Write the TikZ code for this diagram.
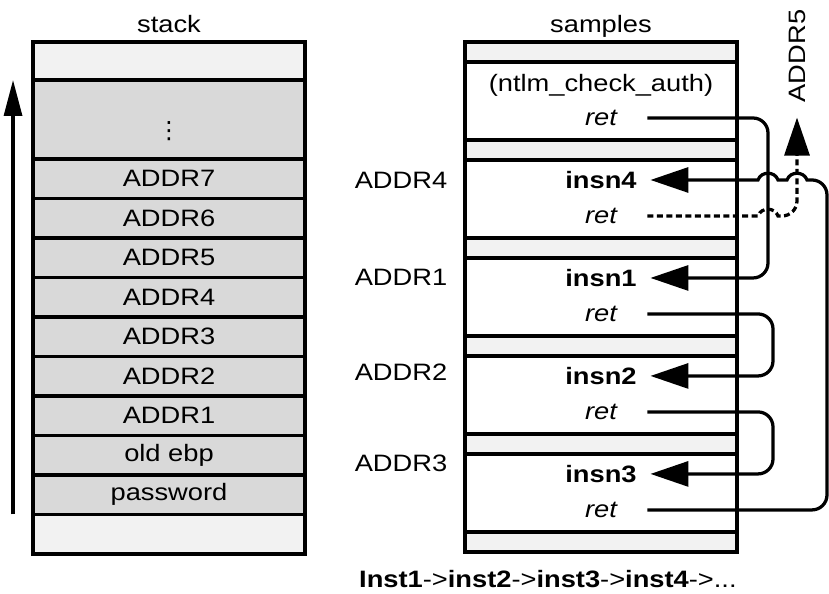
\documentclass[tikz,border=0pt]{standalone}
\usepackage{fontspec}
\setmainfont{Liberation Sans}[FakeStretch=1.15]
\newfontfamily\symfont{DejaVu Sans}
\usetikzlibrary{arrows.meta, positioning, calc}
\definecolor{cellgray}{HTML}{D9D9D9}
\definecolor{padgray}{HTML}{F2F2F2}
\newcommand{\figfont}{\fontsize{13.5pt}{16pt}\selectfont}
\tikzset{%
	cell/.style={draw, line width=0.07cm, minimum width=5.44cm, minimum height=0.79cm,%
		inner sep=0pt, outer sep=0pt, fill=cellgray, font=\figfont},
	pad/.style={cell, fill=padgray},
	padrow/.style={cell, fill=padgray, minimum height=0.4cm},
	block/.style={cell, fill=white, minimum height=1.56cm},
	lbl/.style={inner sep=0pt, font=\figfont},
	insn/.style={inner sep=0pt, font=\figfont\bfseries},
	retlbl/.style={inner sep=0pt, font=\figfont\itshape},
	conn/.style={line width=0.065cm, rounded corners=0.3cm},
	jump/.style={conn, -{Triangle[length=0.76cm, width=0.5cm]}},
	fall/.style={jump, dash pattern=on 0.12cm off 0.07cm},
	growarrow/.style={line width=0.065cm, -{Triangle[length=0.72cm, width=0.36cm]}}
}

\begin{document}
\begin{tikzpicture}[x=0.02cm, y=-0.02cm]
	\useasboundingbox (0,0) rectangle (829,593);

	% stack
	\node[pad, minimum height=0.76cm] (s0) at (169,61) {};
	\node[cell, minimum height=1.58cm, below=0pt of s0] (s1) {\raisebox{-0.38cm}[0pt][0pt]{\symfont ⋮}};
	\node[cell, below=0pt of s1] (s2) {ADDR7};
	\node[cell, below=0pt of s2] (s3) {ADDR6};
	\node[cell, below=0pt of s3] (s4) {ADDR5};
	\node[cell, below=0pt of s4] (s5) {ADDR4};
	\node[cell, below=0pt of s5] (s6) {ADDR3};
	\node[cell, below=0pt of s6] (s7) {ADDR2};
	\node[cell, below=0pt of s7] (s8) {ADDR1};
	\node[cell, below=0pt of s8] (s9) {old ebp};
	\node[cell, below=0pt of s9] (s10) {password};
	\node[pad, below=0pt of s10] (s11) {};
	\node[lbl, above=0.2cm of s0, anchor=base] (stk) {stack};
	\draw[growarrow] ([xshift=-0.4cm]s10.south west) -- ([xshift=-0.4cm]s1.north west);

	% samples
	\node[padrow] (t0) at (601,52) {};
	\node[block, below=0pt of t0] (t1) {};
	\node[padrow, below=0pt of t1] (t2) {};
	\node[block, below=0pt of t2] (t3) {};
	\node[padrow, below=0pt of t3] (t4) {};
	\node[block, below=0pt of t4] (t5) {};
	\node[padrow, below=0pt of t5] (t6) {};
	\node[block, below=0pt of t6] (t7) {};
	\node[padrow, below=0pt of t7] (t8) {};
	\node[block, below=0pt of t8] (t9) {};
	\node[padrow, below=0pt of t9] (t10) {};
	\node[lbl, above=0.2cm of t0, anchor=base] (smp) {samples};

	\node[lbl] (fn) at ([yshift=-0.46cm]t1.north) {(ntlm\_check\_auth)};
	\node[retlbl] (r0) at ([yshift=-1.12cm]t1.north) {ret};
	\node[insn] (i4) at ([yshift=-0.4cm]t3.north) {insn4};
	\node[retlbl] (r4) at ([yshift=-1.12cm]t3.north) {ret};
	\node[insn] (i1) at ([yshift=-0.4cm]t5.north) {insn1};
	\node[retlbl] (r1) at ([yshift=-1.12cm]t5.north) {ret};
	\node[insn] (i2) at ([yshift=-0.4cm]t7.north) {insn2};
	\node[retlbl] (r2) at ([yshift=-1.12cm]t7.north) {ret};
	\node[insn] (i3) at ([yshift=-0.4cm]t9.north) {insn3};
	\node[retlbl] (r3) at ([yshift=-1.12cm]t9.north) {ret};

	\node[lbl] (l4) at (401,180) {ADDR4};
	\node[lbl] (l1) at (401,277) {ADDR1};
	\node[lbl] (l2) at (401,372) {ADDR2};
	\node[lbl] (l3) at (401,463) {ADDR3};
	\node[lbl, rotate=90] (a5) at (797,56) {ADDR5};
	\node[lbl, anchor=base east] (chain) at (737,587)
		{\textbf{Inst1}->\textbf{inst2}->\textbf{inst3}->\textbf{inst4}->...};

	% return edges
	\coordinate (colA) at (768,0);
	\coordinate (colB) at (773,0);
	\coordinate (colC) at (827,0);
	\coordinate (colD) at (797,0);
	\draw[jump] ([xshift=0.6cm]r0.east) -- (r0.east -| colA) -- (i1.east -| colA) -- ([xshift=0.27cm]i1.east);
	\draw[jump] ([xshift=0.6cm]r1.east) -- (r1.east -| colB) -- (i2.east -| colB) -- ([xshift=0.27cm]i2.east);
	\draw[jump] ([xshift=0.6cm]r2.east) -- (r2.east -| colB) -- (i3.east -| colB) -- ([xshift=0.27cm]i3.east);
	\draw[jump] ([xshift=0.6cm]r3.east) -- (r3.east -| colC) -- (i4.east -| colC) [sharp corners]
		-- ($(i4.east -| colD)+(10,0)$) .. controls +(-3,-9) and +(3,-9) .. ($(i4.east -| colD)+(-10,0)$)
		-- ($(i4.east -| colA)+(10,0)$) .. controls +(-3,-9) and +(3,-9) .. ($(i4.east -| colA)+(-10,0)$)
		-- ([xshift=0.27cm]i4.east);
	\draw[fall] ([xshift=0.6cm]r4.east) [sharp corners]
		-- ($(r4.east -| colA)+(-10,0)$) .. controls +(3,-9) and +(-3,-9) .. ($(r4.east -| colA)+(10,0)$)
		[rounded corners=0.3cm] -- (r4.east -| colD) -- ([yshift=-0.3cm]a5.west);
\end{tikzpicture}
\end{document}
